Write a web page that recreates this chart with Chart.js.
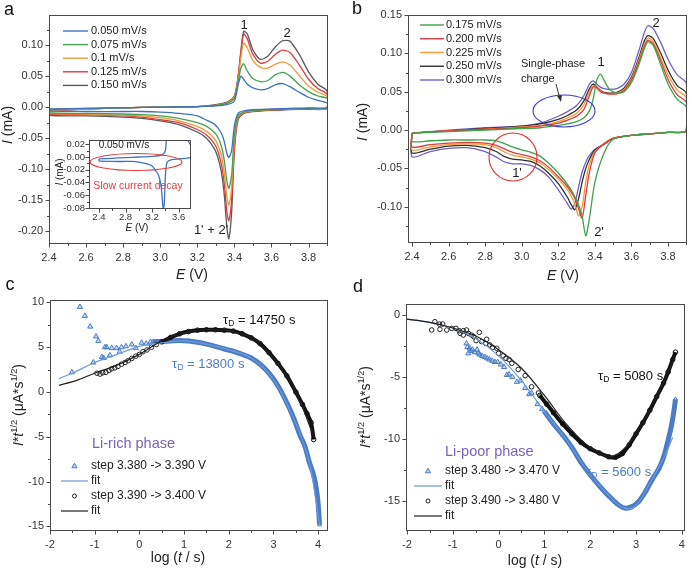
<!DOCTYPE html>
<html>
<head>
<meta charset="utf-8">
<title>CV and PITT</title>
<script src="https://cdn.jsdelivr.net/npm/chart.js@4.4.1/dist/chart.umd.min.js"></script>
<style>
  html, body { margin: 0; padding: 0; background: #fff; }
  body { position: relative; width: 692px; height: 568px; overflow: hidden; }
  canvas { position: absolute; }
</style>
</head>
<body>
<canvas id="chartA" width="346" height="284" style="left:0px;top:0px"></canvas>
<canvas id="chartInset" width="150" height="105" style="left:50px;top:130px"></canvas>
<canvas id="chartB" width="346" height="284" style="left:346px;top:0px"></canvas>
<canvas id="chartC" width="346" height="298" style="left:0px;top:270px"></canvas>
<canvas id="chartD" width="346" height="298" style="left:346px;top:270px"></canvas>
<script>
// ---------- panel a : CV 0.050 - 0.150 mV/s ----------
var aRates = ['0.050 mV/s', '0.075 mV/s', '0.1 mV/s', '0.125 mV/s', '0.150 mV/s'];
var aColors = ['#3f72c2', '#47a04f', '#f09a3a', '#de3a3e', '#5a5a5a'];
var aEUp = [2.40, 2.60, 2.80, 3.00, 3.20, 3.30, 3.36, 3.40, 3.42, 3.435, 3.45, 3.47, 3.50, 3.54, 3.58, 3.62, 3.66, 3.70, 3.75, 3.80, 3.85, 3.90];
var aUp050 = [-0.003, -0.002, -0.001, 0.000, 0.001, 0.002, 0.004, 0.010, 0.035, 0.050, 0.045, 0.037, 0.031, 0.028, 0.030, 0.036, 0.038, 0.033, 0.024, 0.016, 0.011, 0.007];
var aUp075 = [-0.004, -0.002, -0.001, 0.000, 0.001, 0.003, 0.006, 0.014, 0.040, 0.063, 0.070, 0.058, 0.046, 0.041, 0.043, 0.052, 0.056, 0.050, 0.036, 0.025, 0.018, 0.014];
var aUp100 = [-0.005, -0.003, -0.001, 0.000, 0.001, 0.003, 0.007, 0.016, 0.045, 0.080, 0.103, 0.095, 0.075, 0.064, 0.063, 0.069, 0.073, 0.068, 0.051, 0.034, 0.024, 0.017];
var aUp125 = [-0.006, -0.003, -0.001, 0.000, 0.001, 0.003, 0.007, 0.017, 0.048, 0.088, 0.118, 0.110, 0.085, 0.071, 0.074, 0.085, 0.092, 0.088, 0.068, 0.045, 0.030, 0.021];
var aUp150 = [-0.006, -0.003, -0.001, 0.000, 0.001, 0.004, 0.008, 0.018, 0.050, 0.090, 0.122, 0.118, 0.092, 0.077, 0.082, 0.097, 0.107, 0.106, 0.085, 0.057, 0.037, 0.026];
var aEDown = [3.90, 3.80, 3.70, 3.60, 3.50, 3.45, 3.42, 3.40, 3.385, 3.37, 3.36, 3.345, 3.33, 3.31, 3.29, 3.25, 3.20, 3.10, 3.00, 2.90, 2.80, 2.60, 2.40];
var aDown050 = [-0.001, -0.001, -0.002, -0.003, -0.004, -0.006, -0.010, -0.030, -0.070, -0.081, -0.075, -0.055, -0.042, -0.033, -0.027, -0.021, -0.014, -0.010, -0.008, -0.007, -0.007, -0.007, -0.006];
var aDown075 = [-0.001, -0.002, -0.003, -0.004, -0.005, -0.008, -0.014, -0.045, -0.110, -0.131, -0.120, -0.085, -0.063, -0.048, -0.040, -0.031, -0.025, -0.018, -0.014, -0.012, -0.011, -0.010, -0.009];
var aDown100 = [-0.002, -0.002, -0.003, -0.004, -0.006, -0.009, -0.016, -0.055, -0.130, -0.158, -0.145, -0.105, -0.078, -0.060, -0.050, -0.039, -0.031, -0.022, -0.017, -0.014, -0.013, -0.011, -0.010];
var aDown125 = [-0.002, -0.003, -0.003, -0.005, -0.006, -0.010, -0.018, -0.062, -0.150, -0.183, -0.170, -0.122, -0.092, -0.070, -0.058, -0.045, -0.036, -0.025, -0.020, -0.016, -0.014, -0.012, -0.011];
var aDown150 = [-0.002, -0.003, -0.004, -0.005, -0.007, -0.010, -0.020, -0.070, -0.170, -0.212, -0.195, -0.140, -0.105, -0.080, -0.066, -0.050, -0.040, -0.028, -0.022, -0.018, -0.016, -0.014, -0.013];
var aXTicks = [2.4, 2.6, 2.8, 3.0, 3.2, 3.4, 3.6, 3.8];
var aYTicks = [-0.20, -0.15, -0.10, -0.05, 0.00, 0.05, 0.10];
var insetXTicks = [2.4, 2.8, 3.2, 3.6];
var insetYTicks = [-0.08, -0.06, -0.04, -0.02, 0.00, 0.02];

// ---------- panel b : CV 0.175 - 0.300 mV/s ----------
var bRates = ['0.175 mV/s', '0.200 mV/s', '0.225 mV/s', '0.250 mV/s', '0.300 mV/s'];
var bColors = ['#3ea24a', '#e03a3a', '#f29b3b', '#2e2e2e', '#6f60c4'];
var bEUp = [2.40, 2.60, 2.80, 3.00, 3.10, 3.20, 3.25, 3.30, 3.34, 3.37, 3.39, 3.41, 3.43, 3.45, 3.48, 3.52, 3.56, 3.60, 3.64, 3.67, 3.69, 3.72, 3.76, 3.80, 3.85, 3.90];
var bUp175 = [-0.004, -0.002, 0.000, 0.002, 0.003, 0.006, 0.008, 0.011, 0.016, 0.025, 0.040, 0.065, 0.073, 0.065, 0.053, 0.048, 0.050, 0.062, 0.085, 0.106, 0.115, 0.110, 0.085, 0.060, 0.040, 0.030];
var bUp200 = [-0.004, -0.001, 0.001, 0.003, 0.005, 0.009, 0.013, 0.018, 0.027, 0.045, 0.056, 0.055, 0.050, 0.048, 0.047, 0.047, 0.052, 0.065, 0.088, 0.109, 0.117, 0.112, 0.090, 0.066, 0.046, 0.036];
var bUp225 = [-0.004, -0.001, 0.001, 0.004, 0.006, 0.011, 0.016, 0.022, 0.033, 0.050, 0.058, 0.055, 0.051, 0.048, 0.047, 0.048, 0.053, 0.067, 0.091, 0.112, 0.120, 0.115, 0.094, 0.072, 0.052, 0.042];
var bUp250 = [-0.004, -0.001, 0.002, 0.005, 0.008, 0.014, 0.019, 0.026, 0.038, 0.054, 0.060, 0.056, 0.052, 0.049, 0.048, 0.049, 0.055, 0.069, 0.094, 0.116, 0.123, 0.119, 0.100, 0.078, 0.058, 0.048];
var bUp300 = [-0.004, 0.000, 0.003, 0.005, 0.009, 0.018, 0.024, 0.032, 0.045, 0.060, 0.064, 0.060, 0.056, 0.054, 0.053, 0.054, 0.060, 0.075, 0.103, 0.127, 0.136, 0.132, 0.114, 0.092, 0.072, 0.061];
var bEDown = [3.90, 3.80, 3.70, 3.60, 3.50, 3.45, 3.40, 3.37, 3.35, 3.33, 3.31, 3.29, 3.27, 3.25, 3.20, 3.15, 3.10, 3.05, 3.00, 2.95, 2.90, 2.86, 2.80, 2.70, 2.60, 2.50, 2.40];
var bDown175 = [-0.001, -0.003, -0.005, -0.007, -0.012, -0.030, -0.068, -0.115, -0.138, -0.112, -0.097, -0.087, -0.078, -0.071, -0.056, -0.044, -0.034, -0.029, -0.026, -0.022, -0.017, -0.014, -0.013, -0.013, -0.013, -0.014, -0.015];
var bDown200 = [-0.001, -0.003, -0.005, -0.007, -0.011, -0.018, -0.030, -0.055, -0.085, -0.115, -0.102, -0.089, -0.081, -0.074, -0.061, -0.049, -0.040, -0.035, -0.032, -0.029, -0.024, -0.020, -0.017, -0.016, -0.017, -0.019, -0.022];
var bDown225 = [-0.001, -0.003, -0.005, -0.007, -0.011, -0.018, -0.028, -0.045, -0.068, -0.100, -0.112, -0.096, -0.086, -0.078, -0.064, -0.052, -0.043, -0.038, -0.035, -0.033, -0.028, -0.023, -0.019, -0.018, -0.019, -0.022, -0.026];
var bDown250 = [-0.001, -0.003, -0.005, -0.007, -0.011, -0.018, -0.026, -0.038, -0.050, -0.068, -0.090, -0.104, -0.097, -0.088, -0.070, -0.057, -0.047, -0.041, -0.039, -0.038, -0.034, -0.028, -0.023, -0.020, -0.021, -0.025, -0.030];
var bDown300 = [-0.001, -0.003, -0.005, -0.007, -0.011, -0.019, -0.025, -0.033, -0.042, -0.055, -0.075, -0.096, -0.103, -0.096, -0.078, -0.062, -0.052, -0.046, -0.044, -0.044, -0.041, -0.035, -0.028, -0.023, -0.024, -0.028, -0.035];
var bXTicks = [2.4, 2.6, 2.8, 3.0, 3.2, 3.4, 3.6, 3.8];
var bYTicks = [-0.10, -0.05, 0.00, 0.05, 0.10, 0.15];

// ---------- panel c : Li-rich phase ----------
var cBlueSparseX = [-1.51, -1.33, -1.22, -1.10, -1.03, -0.97, -0.92, -0.84, -0.80, -0.77, -0.73, -0.66, -0.62, -0.51, -0.44, -0.40, -0.30, -0.17, -0.08, 0.05, 0.15, 0.25];
var cBlueSparseY = [2.2, 9.5, 8.5, 7.3, 3.3, 6.2, 5.7, 3.9, 3.8, 5.0, 5.0, 4.1, 4.9, 4.9, 4.5, 5.0, 5.1, 5.3, 4.9, 5.5, 5.4, 5.6];
var cBlueBandX = [0.3, 0.5, 0.7, 0.9, 1.1, 1.3, 1.5, 1.7, 1.9, 2.1, 2.3, 2.5, 2.7, 2.9, 3.1, 3.3, 3.45, 3.6, 3.7, 3.8, 3.9, 3.96, 4.0, 4.03];
var cBlueBandY = [5.6, 5.65, 5.7, 5.75, 5.7, 5.55, 5.35, 5.1, 4.8, 4.55, 4.2, 3.8, 3.1, 2.1, 0.7, -1.2, -2.9, -4.9, -6.0, -7.8, -9.3, -10.8, -12.5, -14.8];
var cBlueFitX = [-1.8, -1.5, -1.0, -0.5, 0.0, 0.5, 1.0, 1.5, 2.0, 2.5, 3.0, 3.5, 3.8, 4.03];
var cBlueFitY = [1.5, 2.1, 3.3, 4.2, 5.1, 5.5, 5.7, 5.35, 4.7, 3.8, 1.4, -3.5, -7.8, -14.8];
var cBlackSparseX = [-0.95, -0.88, -0.82, -0.75, -0.68, -0.62, -0.55, -0.48, -0.40, -0.32, -0.25, -0.17, -0.08, 0.0, 0.08, 0.17, 0.27, 0.38];
var cBlackSparseY = [2.1, 2.0, 2.15, 2.2, 2.4, 2.6, 2.7, 2.85, 3.1, 3.3, 3.5, 3.75, 4.0, 4.2, 4.5, 4.7, 5.0, 5.3];
var cBlackBandX = [0.5, 0.7, 0.9, 1.1, 1.3, 1.5, 1.7, 1.9, 2.1, 2.3, 2.5, 2.7, 2.9, 3.1, 3.3, 3.5, 3.65, 3.75, 3.84, 3.9];
var cBlackBandY = [5.6, 6.1, 6.5, 6.75, 6.9, 6.95, 6.95, 6.9, 6.8, 6.5, 6.05, 5.4, 4.4, 3.2, 1.8, 0.0, -1.4, -2.4, -3.4, -5.3];
var cBlackFitX = [-1.8, -1.4, -1.0, -0.5, 0.0, 0.5, 1.0, 1.5, 2.0, 2.5, 3.0, 3.5, 3.9];
var cBlackFitY = [0.75, 1.3, 2.1, 3.0, 4.2, 5.7, 6.6, 6.95, 6.85, 6.05, 3.8, 0.0, -5.0];
var cXTicks = [-2, -1, 0, 1, 2, 3, 4];
var cYTicks = [-15, -10, -5, 0, 5, 10];

// ---------- panel d : Li-poor phase ----------
var dBlackSparseX = [-1.46, -1.39, -1.29, -1.28, -1.22, -1.13, -1.02, -0.93, -0.86, -0.84, -0.77, -0.77, -0.70, -0.66, -0.59, -0.54, -0.49, -0.42, -0.37, -0.28, -0.26, -0.19, -0.13, -0.04, 0.0, 0.10, 0.16, 0.23, 0.29, 0.43, 0.58, 0.72, 0.87];
var dBlackSparseY = [-1.21, -0.54, -0.73, -1.16, -0.73, -1.21, -1.08, -1.08, -1.27, -1.48, -1.27, -1.62, -1.21, -1.48, -1.62, -1.75, -2.07, -1.40, -2.15, -2.29, -1.96, -2.42, -2.61, -2.69, -3.1, -3.3, -3.5, -3.6, -3.9, -4.4, -4.9, -5.8, -6.3];
var dBlackBandX = [0.9, 1.05, 1.2, 1.4, 1.6, 1.8, 2.0, 2.2, 2.4, 2.55, 2.7, 2.85, 3.0, 3.15, 3.3, 3.45, 3.6, 3.7, 3.8, 3.86];
var dBlackBandY = [-6.5, -7.2, -7.9, -8.8, -9.6, -10.3, -10.8, -11.15, -11.45, -11.5, -11.2, -10.5, -9.6, -8.7, -7.7, -6.6, -5.5, -4.6, -3.6, -3.0];
var dBlackFitX = [-2.0, -1.5, -1.0, -0.5, 0.0, 0.5, 1.0, 1.5, 2.0, 2.5, 3.0, 3.5, 3.85];
var dBlackFitY = [-0.33, -0.6, -1.05, -1.7, -2.8, -4.3, -6.5, -8.9, -10.7, -11.4, -9.6, -6.2, -3.4];
var dBlueSparseX = [-0.70, -0.68, -0.66, -0.63, -0.60, -0.57, -0.52, -0.47, -0.44, -0.41, -0.36, -0.30, -0.25, -0.20, -0.14, -0.08, -0.02, 0.05, 0.12, 0.18, 0.23, 0.30, 0.40, 0.48, 0.58, 0.67, 0.72, 0.85, 0.95];
var dBlueSparseY = [-2.3, -2.6, -3.1, -2.7, -2.9, -2.8, -3.0, -2.8, -3.1, -3.2, -3.3, -3.4, -3.5, -3.6, -3.7, -3.8, -3.8, -4.0, -4.2, -4.85, -4.8, -5.0, -5.4, -5.3, -5.9, -6.4, -6.3, -7.2, -7.6];
var dBlueBandX = [1.0, 1.2, 1.4, 1.6, 1.8, 2.0, 2.2, 2.4, 2.6, 2.75, 2.9, 3.05, 3.2, 3.35, 3.5, 3.6, 3.7, 3.78, 3.84, 3.86];
var dBlueBandY = [-7.8, -8.8, -9.7, -10.7, -11.9, -12.9, -13.8, -14.6, -15.3, -15.6, -15.5, -15.1, -14.3, -13.3, -12.4, -11.5, -10.1, -8.8, -7.4, -6.8];
var dBlueFitX = [-2.0, -1.5, -1.0, -0.5, 0.0, 0.5, 1.0, 1.5, 2.0, 2.5, 2.75, 3.0, 3.3, 3.6, 3.8];
var dBlueFitY = [-0.33, -0.6, -1.05, -1.9, -3.3, -5.3, -7.8, -10.2, -12.9, -14.95, -15.6, -15.4, -13.6, -11.6, -9.9];
var dXTicks = [-2, -1, 0, 1, 2, 3, 4];
var dYTicks = [-15, -10, -5, 0];

var FONT = '"Liberation Sans", Arial, Helvetica, sans-serif';
var BLUE = '#4a7cc8', BLUEFIT = '#6f9ad8', PURPLE = '#7a62b8';

function pts(xs, ys) { return xs.map(function (x, i) { return { x: x, y: ys[i] }; }); }
function loop(eUp, iUp, eDown, iDown) {
  var p = pts(eUp, iUp).concat(pts(eDown, iDown));
  p.push(p[0]);
  return p;
}

// draws text runs: [text, style] style: 'i' italic, '^' sup, '_' sub
function rich(ctx, parts, x, y, size, align, color) {
  var items = [], w = 0;
  parts.forEach(function (p) {
    var st = p[1] || '';
    var small = st.indexOf('^') >= 0 || st.indexOf('_') >= 0;
    var s = small ? size * 0.66 : size;
    var font = (st.indexOf('i') >= 0 ? 'italic ' : '') + s + 'px ' + FONT;
    ctx.font = font;
    var mw = ctx.measureText(p[0]).width;
    var dy = st.indexOf('^') >= 0 ? -size * 0.36 : (st.indexOf('_') >= 0 ? size * 0.3 : 0);
    items.push({ t: p[0], font: font, mw: mw, dy: dy });
    w += mw;
  });
  var cx = align === 'center' ? x - w / 2 : (align === 'right' ? x - w : x);
  ctx.fillStyle = color || '#222';
  ctx.textAlign = 'left';
  ctx.textBaseline = 'middle';
  items.forEach(function (it) {
    ctx.font = it.font;
    ctx.fillText(it.t, cx, y + it.dy);
    cx += it.mw;
  });
}

function tickMarks(scale) {
  var v = scale.ticks.map(function (t) { return t.value; });
  var h = (v[1] - v[0]) / 2, out = [];
  for (var k = -4; k <= 2 * v.length + 4; k++) {
    var val = v[0] + k * h;
    if (val >= scale.min - 1e-9 && val <= scale.max + 1e-9) out.push([val, k % 2 === 0]);
  }
  return out;
}

function deco(cfg) {
  return {
    id: 'deco',
    beforeDatasetsDraw: function (chart) {
      if (!cfg.fill) return;
      var a = chart.chartArea, ctx = chart.ctx;
      ctx.save();
      ctx.fillStyle = '#fff';
      ctx.fillRect(a.left, a.top, a.right - a.left, a.bottom - a.top);
      ctx.restore();
    },
    afterDraw: function (chart) {
      var ctx = chart.ctx, a = chart.chartArea;
      var xs = chart.scales.x, ys = chart.scales.y;
      ctx.save();
      var L = Math.round(a.left) + 0.5, T = Math.round(a.top) + 0.5;
      var R = Math.round(a.right) - 0.5, B = Math.round(a.bottom) - 0.5;
      ctx.strokeStyle = '#4a4a4a';
      ctx.lineWidth = 1;
      ctx.strokeRect(L, T, R - L, B - T);
      ctx.beginPath();
      tickMarks(xs).forEach(function (m) {
        var p = Math.round(xs.getPixelForValue(m[0])) + 0.5;
        ctx.moveTo(p, B); ctx.lineTo(p, B + (m[1] ? 4 : 2.5));
      });
      tickMarks(ys).forEach(function (m) {
        var p = Math.round(ys.getPixelForValue(m[0])) + 0.5;
        ctx.moveTo(L, p); ctx.lineTo(L - (m[1] ? 4 : 2.5), p);
      });
      ctx.stroke();

      if (cfg.legend) {
        var lg = cfg.legend;
        lg.items.forEach(function (it, i) {
          var y = lg.y0 + i * lg.dy;
          if (it.k === 'line') {
            ctx.strokeStyle = it.c; ctx.lineWidth = it.w || 1.4;
            ctx.beginPath(); ctx.moveTo(lg.x0, y); ctx.lineTo(lg.x1, y); ctx.stroke();
          } else if (it.k === 'tri') {
            var mx = (lg.x0 + lg.x1) / 2;
            ctx.strokeStyle = it.c; ctx.lineWidth = 1; ctx.fillStyle = 'rgba(74,124,200,0.35)';
            ctx.beginPath(); ctx.moveTo(mx, y - 2.8); ctx.lineTo(mx + 2.6, y + 1.8); ctx.lineTo(mx - 2.6, y + 1.8); ctx.closePath();
            ctx.fill(); ctx.stroke();
          } else if (it.k === 'circ') {
            var cx = (lg.x0 + lg.x1) / 2;
            ctx.strokeStyle = it.c; ctx.lineWidth = 1;
            ctx.beginPath(); ctx.arc(cx, y, 2, 0, Math.PI * 2); ctx.stroke();
          }
          rich(ctx, [[it.t]], lg.tx, y, lg.s, 'left', '#222');
        });
      }
      (cfg.texts || []).forEach(function (t) {
        if (t.rot) {
          ctx.save();
          ctx.translate(t.x, t.y);
          ctx.rotate(-Math.PI / 2);
          rich(ctx, t.p, 0, 0, t.s, 'center', t.c);
          ctx.restore();
        } else {
          rich(ctx, t.p, t.x, t.y, t.s, t.al || 'left', t.c);
        }
      });
      if (cfg.extra) cfg.extra(ctx, chart);
      ctx.restore();
    }
  };
}

function makeChart(id, datasets, sc, cfg) {
  var fs = sc.fs || 11;
  return new Chart(document.getElementById(id), {
    type: 'scatter',
    data: { datasets: datasets },
    options: {
      responsive: false,
      animation: false,
      events: [],
      layout: { padding: sc.pad },
      plugins: { legend: { display: false }, tooltip: { enabled: false } },
      scales: {
        x: {
          type: 'linear', min: sc.xmin, max: sc.xmax,
          grid: { display: false, drawTicks: false },
          border: { display: false },
          afterBuildTicks: function (s) { s.ticks = sc.xTicks.map(function (v) { return { value: v }; }); },
          afterFit: function (s) { s.height = sc.xh; },
          ticks: { autoSkip: false, maxRotation: 0, padding: sc.xpad, color: '#333',
                   font: { family: FONT, size: fs }, callback: sc.xfmt }
        },
        y: {
          type: 'linear', min: sc.ymin, max: sc.ymax,
          grid: { display: false, drawTicks: false },
          border: { display: false },
          afterBuildTicks: function (s) { s.ticks = sc.yTicks.map(function (v) { return { value: v }; }); },
          afterFit: function (s) { s.width = sc.yw; },
          ticks: { autoSkip: false, padding: sc.ypad, color: '#333',
                   font: { family: FONT, size: fs }, callback: sc.yfmt }
        }
      }
    },
    plugins: [deco(cfg)]
  });
}

function cvSet(data, color, label) {
  return { label: label, data: data, showLine: true, borderColor: color, borderWidth: 1.3,
           pointRadius: 0, tension: 0.25, fill: false };
}
function f2(v) { return v.toFixed(2); }
function f1(v) { return v.toFixed(1); }
function f0(v) { return String(v); }

// ---------- build panel a ----------
var aLoops = [
  loop(aEUp, aUp050, aEDown, aDown050),
  loop(aEUp, aUp075, aEDown, aDown075),
  loop(aEUp, aUp100, aEDown, aDown100),
  loop(aEUp, aUp125, aEDown, aDown125),
  loop(aEUp, aUp150, aEDown, aDown150)
];
makeChart('chartA', aLoops.map(function (d, i) { return cvSet(d, aColors[i], aRates[i]); }),
  { pad: { left: 0, right: 18, top: 15, bottom: 0 }, yw: 49, xh: 40, xpad: 7, ypad: 6,
    xmin: 2.4, xmax: 3.905, ymin: -0.2205, ymax: 0.1485, xTicks: aXTicks, yTicks: aYTicks, xfmt: f1, yfmt: f2 },
  {
    legend: { x0: 63, x1: 88, tx: 91, y0: 31, dy: 13.6, s: 11,
              items: aRates.map(function (r, i) { return { t: r, c: aColors[i], k: 'line' }; }) },
    texts: [
      { p: [['a']], x: 9, y: 10, s: 18, al: 'center', c: '#111' },
      { p: [['I', 'i'], [' (mA)']], x: 8, y: 125, s: 14, rot: true },
      { p: [['E', 'i'], [' (V)']], x: 192, y: 275, s: 14, al: 'center' },
      { p: [['1']], x: 244, y: 25, s: 13, al: 'center' },
      { p: [['2']], x: 287, y: 33, s: 13, al: 'center' },
      { p: [["1' + 2'"]], x: 211, y: 230, s: 13, al: 'center' }
    ]
  });

// inset (0.050 mV/s)
makeChart('chartInset', [cvSet(aLoops[0], aColors[0], aRates[0])],
  { pad: { left: 0, right: 9, top: 10, bottom: 0 }, yw: 39, xh: 26, xpad: 3, ypad: 4, fs: 9.5,
    xmin: 2.25, xmax: 3.786, ymin: -0.0816, ymax: 0.0267, xTicks: insetXTicks, yTicks: insetYTicks, xfmt: f1, yfmt: f2 },
  {
    fill: true,
    texts: [
      { p: [['0.050 mV/s']], x: 74, y: 15, s: 10, al: 'center' },
      { p: [['Slow current decay']], x: 88, y: 56, s: 10.5, al: 'center', c: '#e33b3b' },
      { p: [['I', 'i'], [' (mA)']], x: 10, y: 42, s: 10, rot: true },
      { p: [['E', 'i'], [' (V)']], x: 87, y: 98, s: 10, al: 'center' }
    ],
    extra: function (ctx) {
      ctx.strokeStyle = '#e33b3b'; ctx.lineWidth = 1.2;
      ctx.beginPath(); ctx.ellipse(86, 32, 46, 8.5, 0, 0, Math.PI * 2); ctx.stroke();
    }
  });

// ---------- build panel b ----------
var bLoops = [
  loop(bEUp, bUp175, bEDown, bDown175),
  loop(bEUp, bUp200, bEDown, bDown200),
  loop(bEUp, bUp225, bEDown, bDown225),
  loop(bEUp, bUp250, bEDown, bDown250),
  loop(bEUp, bUp300, bEDown, bDown300)
];
makeChart('chartB', bLoops.map(function (d, i) { return cvSet(d, bColors[i], bRates[i]); }),
  { pad: { left: 0, right: 5, top: 15, bottom: 0 }, yw: 62, xh: 41, xpad: 7, ypad: 6,
    xmin: 2.378, xmax: 3.9035, ymin: -0.1473, ymax: 0.15, xTicks: bXTicks, yTicks: bYTicks, xfmt: f1, yfmt: f2 },
  {
    legend: { x0: 74, x1: 98, tx: 100, y0: 25, dy: 13.75, s: 11,
              items: bRates.map(function (r, i) { return { t: r, c: bColors[i], k: 'line' }; }) },
    texts: [
      { p: [['b']], x: 11, y: 9, s: 18, al: 'center', c: '#111' },
      { p: [['I', 'i'], [' (mA)']], x: 17, y: 122, s: 14, rot: true },
      { p: [['E', 'i'], [' (V)']], x: 217, y: 276, s: 14, al: 'center' },
      { p: [['1']], x: 255, y: 62, s: 13, al: 'center' },
      { p: [['2']], x: 310, y: 23, s: 13, al: 'center' },
      { p: [["1'"]], x: 171, y: 173, s: 13, al: 'center' },
      { p: [["2'"]], x: 253, y: 232, s: 13, al: 'center' },
      { p: [['Single-phase']], x: 175, y: 64, s: 11 },
      { p: [['charge']], x: 175, y: 79, s: 11 }
    ],
    extra: function (ctx) {
      ctx.strokeStyle = '#3b3bd6'; ctx.lineWidth = 1.1;
      ctx.beginPath(); ctx.ellipse(218, 111, 31, 16, 0, 0, Math.PI * 2); ctx.stroke();
      ctx.strokeStyle = '#e03030';
      ctx.beginPath(); ctx.arc(167, 157, 24, 0, Math.PI * 2); ctx.stroke();
      ctx.strokeStyle = '#333'; ctx.fillStyle = '#333'; ctx.lineWidth = 1;
      ctx.beginPath(); ctx.moveTo(210, 84); ctx.lineTo(213.5, 97); ctx.stroke();
      ctx.beginPath(); ctx.moveTo(215, 102); ctx.lineTo(211, 96); ctx.lineTo(216, 95); ctx.closePath(); ctx.fill();
    }
  });

// ---------- panels c and d ----------
function bandSet(xs, ys, color, style, w) {
  return { data: pts(xs, ys), showLine: true, borderColor: color, borderWidth: w, tension: 0.3,
           pointStyle: style, pointRadius: 2.3, pointBorderWidth: 1, pointBorderColor: color,
           pointBackgroundColor: 'rgba(255,255,255,0)', fill: false };
}
function sparseSet(xs, ys, color, style, fillC) {
  return { data: pts(xs, ys), showLine: false, pointStyle: style, pointRadius: style === 'triangle' ? 3 : 2.3,
           pointBorderWidth: 1, pointBorderColor: color, pointBackgroundColor: fillC };
}
function fitSet(xs, ys, color) {
  return { data: pts(xs, ys), showLine: true, borderColor: color, borderWidth: 1.2, tension: 0.35,
           pointRadius: 0, fill: false };
}
var yTitleCD = [['I', 'i'], ['*'], ['t', 'i'], ['1/2', '^'], [' (\u03bcA*s'], ['1/2', '^'], [')']];
var xTitleCD = [['log ('], ['t', 'i'], [' / s)']];

makeChart('chartC', [
    fitSet(cBlackFitX, cBlackFitY, '#222'),
    fitSet(cBlueFitX, cBlueFitY, BLUEFIT),
    bandSet(cBlackBandX, cBlackBandY, '#111', 'circle', 4),
    sparseSet(cBlackSparseX, cBlackSparseY, '#222', 'circle', 'rgba(255,255,255,0)'),
    bandSet(cBlueBandX, cBlueBandY, BLUE, 'triangle', 5),
    sparseSet(cBlueSparseX, cBlueSparseY, BLUE, 'triangle', 'rgba(74,124,200,0.3)')
  ],
  { pad: { left: 0, right: 18, top: 30, bottom: 0 }, yw: 50, xh: 37, xpad: 7, ypad: 6,
    xmin: -2, xmax: 4.22, ymin: -15.51, ymax: 10.27, xTicks: cXTicks, yTicks: cYTicks, xfmt: f0, yfmt: f0 },
  {
    legend: { x0: 61, x1: 88, tx: 91, y0: 196, dy: 15, s: 12,
              items: [ { t: 'step 3.380 -> 3.390 V', c: BLUE, k: 'tri' },
                       { t: 'fit', c: BLUEFIT, k: 'line', w: 1.2 },
                       { t: 'step 3.390 -> 3.400 V', c: '#222', k: 'circ' },
                       { t: 'fit', c: '#222', k: 'line', w: 1.2 } ] },
    texts: [
      { p: [['c']], x: 10, y: 15, s: 18, al: 'center', c: '#111' },
      { p: yTitleCD, x: 19, y: 135, s: 14, rot: true },
      { p: xTitleCD, x: 178, y: 288, s: 14, al: 'center' },
      { p: [['\u03c4'], ['D', '_'], [' = 14750 s']], x: 223, y: 50, s: 13, c: '#111' },
      { p: [['\u03c4'], ['D', '_'], [' = 13800 s']], x: 172, y: 94, s: 13, c: BLUE },
      { p: [['Li-rich phase']], x: 92, y: 174, s: 14.5, c: PURPLE }
    ]
  });

makeChart('chartD', [
    fitSet(dBlackFitX, dBlackFitY, '#222'),
    fitSet(dBlueFitX, dBlueFitY, BLUEFIT),
    bandSet(dBlackBandX, dBlackBandY, '#111', 'circle', 4),
    sparseSet(dBlackSparseX, dBlackSparseY, '#222', 'circle', 'rgba(255,255,255,0)'),
    bandSet(dBlueBandX, dBlueBandY, BLUE, 'triangle', 5),
    sparseSet(dBlueSparseX, dBlueSparseY, BLUE, 'triangle', 'rgba(74,124,200,0.3)')
  ],
  { pad: { left: 0, right: 7, top: 34, bottom: 0 }, yw: 60, xh: 37, xpad: 7, ypad: 6,
    xmin: -2.02, xmax: 4.065, ymin: -17.45, ymax: 0.89, xTicks: dXTicks, yTicks: dYTicks, xfmt: f0, yfmt: f0 },
  {
    legend: { x0: 68, x1: 96, tx: 99, y0: 201, dy: 15, s: 12,
              items: [ { t: 'step 3.480 -> 3.470 V', c: BLUE, k: 'tri' },
                       { t: 'fit', c: BLUEFIT, k: 'line', w: 1.2 },
                       { t: 'step 3.490 -> 3.480 V', c: '#222', k: 'circ' },
                       { t: 'fit', c: '#222', k: 'line', w: 1.2 } ] },
    texts: [
      { p: [['d']], x: 12, y: 17, s: 18, al: 'center', c: '#111' },
      { p: yTitleCD, x: 20, y: 137, s: 14, rot: true },
      { p: xTitleCD, x: 189, y: 291, s: 14, al: 'center' },
      { p: [['\u03c4'], ['D', '_'], [' = 5080 s']], x: 252, y: 106, s: 13, c: '#111' },
      { p: [['\u03c4'], ['D', '_'], [' = 5600 s']], x: 240, y: 202, s: 13, c: BLUE },
      { p: [['Li-poor phase']], x: 99, y: 182, s: 14.5, c: PURPLE }
    ]
  });
</script>
</body>
</html>
